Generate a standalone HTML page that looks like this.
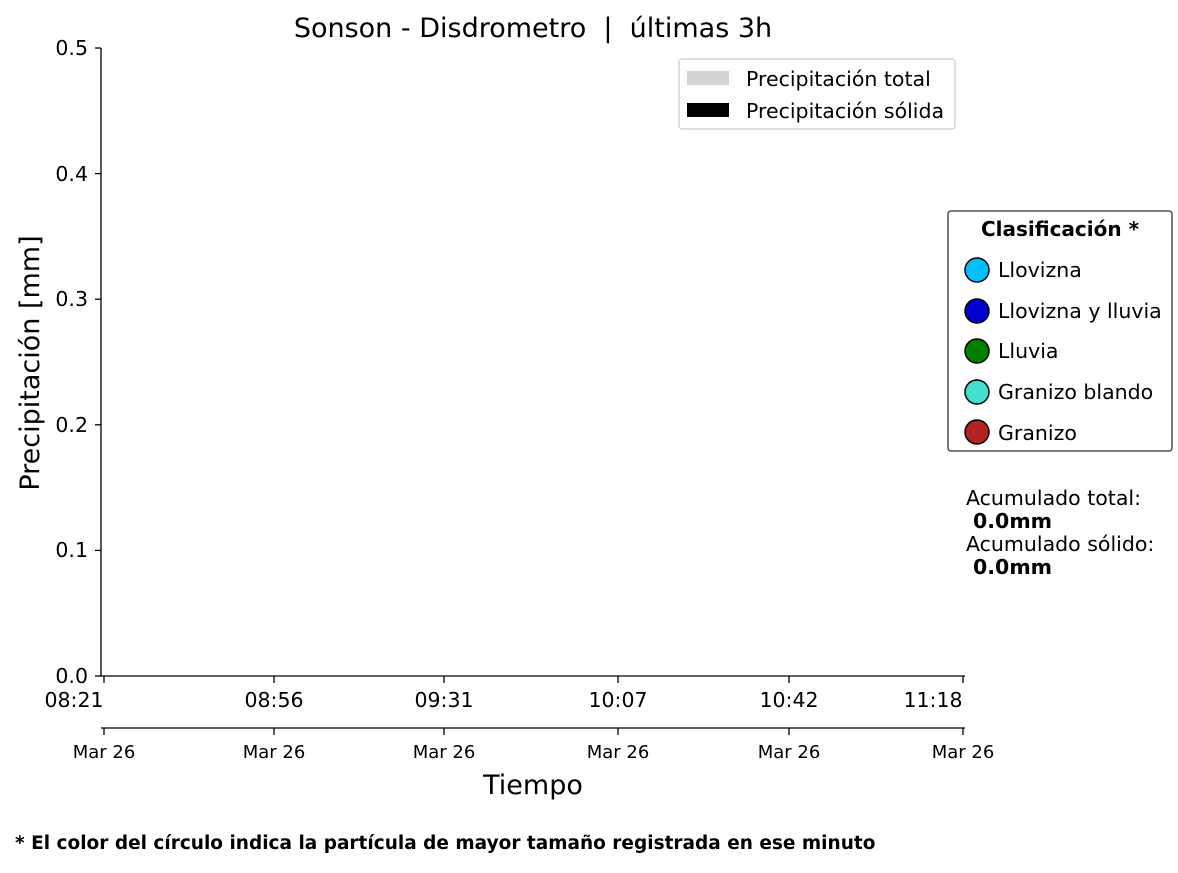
<!DOCTYPE html>
<html><head><meta charset="utf-8"><style>
body{margin:0;background:#fff}
text{font-family:"DejaVu Sans","Liberation Sans",sans-serif;fill:#000;white-space:pre}
</style></head><body>
<svg width="1178" height="868" xmlns="http://www.w3.org/2000/svg" xml:space="preserve">
<rect width="1178" height="868" fill="#fff"/>
<text x="533" y="37" font-size="27" text-anchor="middle">Sonson - Disdrometro  |  últimas 3h</text>
<g stroke="#000" stroke-width="1.3">
<line x1="101" y1="48" x2="101" y2="676"/>
<line x1="101" y1="676" x2="965" y2="676"/>
<line x1="101" y1="728" x2="965" y2="728"/>
<line x1="95" y1="48" x2="101" y2="48"/><line x1="95" y1="173.6" x2="101" y2="173.6"/>
<line x1="95" y1="299.2" x2="101" y2="299.2"/><line x1="95" y1="424.8" x2="101" y2="424.8"/>
<line x1="95" y1="550.4" x2="101" y2="550.4"/><line x1="95" y1="676" x2="101" y2="676"/>
<line x1="104" y1="676" x2="104" y2="683"/><line x1="274" y1="676" x2="274" y2="683"/>
<line x1="444" y1="676" x2="444" y2="683"/><line x1="618" y1="676" x2="618" y2="683"/>
<line x1="789" y1="676" x2="789" y2="683"/><line x1="963" y1="676" x2="963" y2="683"/>
<line x1="104" y1="728" x2="104" y2="735"/><line x1="274" y1="728" x2="274" y2="735"/>
<line x1="444" y1="728" x2="444" y2="735"/><line x1="618" y1="728" x2="618" y2="735"/>
<line x1="789" y1="728" x2="789" y2="735"/><line x1="963" y1="728" x2="963" y2="735"/>
</g>
<g font-size="20.5" text-anchor="end">
<text x="88" y="55">0.5</text><text x="88" y="181">0.4</text><text x="88" y="306">0.3</text>
<text x="88" y="432">0.2</text><text x="88" y="557">0.1</text><text x="88" y="683">0.0</text>
</g>
<g font-size="20.5" text-anchor="middle">
<text x="74" y="707">08:21</text><text x="274" y="707">08:56</text><text x="444" y="707">09:31</text>
<text x="618" y="707">10:07</text><text x="789" y="707">10:42</text><text x="933" y="707">11:18</text>
</g>
<g font-size="18" text-anchor="middle">
<text x="104" y="758">Mar 26</text><text x="274" y="758">Mar 26</text><text x="444" y="758">Mar 26</text>
<text x="618" y="758">Mar 26</text><text x="789" y="758">Mar 26</text><text x="963" y="758">Mar 26</text>
</g>
<text x="533" y="794" font-size="27" text-anchor="middle">Tiempo</text>
<text transform="translate(39,363) rotate(-90)" font-size="27" text-anchor="middle">Precipitación [mm]</text>
<rect x="679" y="59" width="276" height="70" rx="3" fill="#fff" stroke="#ccc" stroke-width="1.2"/>
<rect x="687" y="71" width="42" height="14" fill="#d3d3d3"/>
<rect x="687" y="103" width="42" height="14" fill="#000"/>
<text x="746" y="86" font-size="20.5">Precipitación total</text>
<text x="746" y="118" font-size="20.5">Precipitación sólida</text>
<rect x="948" y="211" width="224" height="240" rx="3" fill="#fff" stroke="#333" stroke-width="1.3"/>
<text x="1060" y="236" font-size="20" font-weight="bold" text-anchor="middle">Clasificación *</text>
<g stroke="#000" stroke-width="1.5">
<circle cx="977" cy="270" r="12" fill="#00bfff"/>
<circle cx="977" cy="311" r="12" fill="#0000cd"/>
<circle cx="977" cy="351" r="12" fill="#008000"/>
<circle cx="977" cy="392" r="12" fill="#40e0d0"/>
<circle cx="977" cy="432" r="12" fill="#b22222"/>
</g>
<g font-size="20.5">
<text x="998" y="277">Llovizna</text><text x="998" y="318">Llovizna y lluvia</text>
<text x="998" y="358">Lluvia</text><text x="998" y="399">Granizo blando</text>
<text x="998" y="440">Granizo</text>
</g>
<g font-size="20.5">
<text x="966" y="505">Acumulado total:</text>
<text x="973" y="528" font-weight="bold">0.0mm</text>
<text x="966" y="551">Acumulado sólido:</text>
<text x="973" y="574" font-weight="bold">0.0mm</text>
</g>
<text x="15" y="849" font-size="18.5" font-weight="bold">* El color del círculo indica la partícula de mayor tamaño registrada en ese minuto</text>
</svg>
</body></html>
